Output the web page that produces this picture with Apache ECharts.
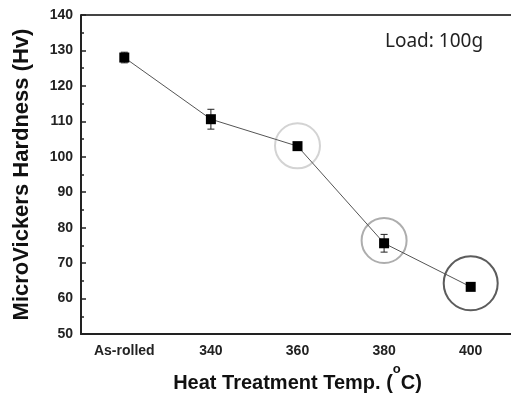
<!DOCTYPE html>
<html>
<head>
<meta charset="utf-8">
<script src="https://cdn.jsdelivr.net/npm/echarts@6/dist/echarts.min.js"></script>
<style>
html, body { margin: 0; padding: 0; background: #fff; }
#main { width: 511px; height: 395px; }
</style>
</head>
<body>
<div id="main"></div>
<script>
var categories = ['As-rolled', '340', '360', '380', '400'];
var hardness = [128, 110.6, 103, 75.6, 63.3];
var errors = [1.5, 2.8, 0.8, 2.5, 0.6];
// highlight rings: [category index, centre value, symbol size, colour]
var rings = [
    [2, 103.1, 45, '#c8c8c8'],
    [3, 76.4, 45, '#999999'],
    [4, 64.3, 54, '#333333']
];

var dom = document.getElementById('main');
var myChart = echarts.init(dom);

var boldFont = 'Liberation Sans, Arial, sans-serif';

option = {
    backgroundColor: '#fff',
    animation: false,
    grid: {
        left: 81,
        top: 15,
        right: -3,
        bottom: 61,
        outerBoundsMode: 'none',
        containLabel: false,
        show: false
    },
    xAxis: {
        type: 'category',
        data: categories,
        boundaryGap: true,
        name: '{n|Heat Treatment Temp. (}{sup|o}{n|C)}',
        nameLocation: 'middle',
        nameGap: 25,
        nameTextStyle: {
            fontFamily: boldFont,
            fontWeight: 'bold',
            fontSize: 20,
            color: '#111',
            rich: {
                n: {
                    fontFamily: boldFont,
                    fontWeight: 'bold',
                    fontSize: 20,
                    verticalAlign: 'bottom',
                    color: '#111'
                },
                sup: {
                    fontFamily: boldFont,
                    fontWeight: 'bold',
                    fontSize: 13,
                    verticalAlign: 'top',
                    padding: [0, 0, 18, 0],
                    color: '#111'
                }
            }
        },
        axisLine: { lineStyle: { color: '#222', width: 2 } },
        axisTick: { inside: true, alignWithLabel: true, length: 6, lineStyle: { color: '#222', width: 1.5 } },
        axisLabel: {
            fontFamily: boldFont,
            fontWeight: 'bold',
            fontSize: 14,
            color: '#222',
            margin: 10
        },
        splitLine: { show: false }
    },
    yAxis: [{
        type: 'value',
        min: 50,
        max: 140,
        interval: 10,
        name: 'MicroVickers Hardness (Hv)',
        nameLocation: 'middle',
        nameGap: 48,
        nameTextStyle: {
            fontFamily: boldFont,
            fontWeight: 'bold',
            fontSize: 22,
            color: '#111'
        },
        axisLine: { show: true, lineStyle: { color: '#222', width: 2 } },
        axisTick: { show: true, inside: true, length: 5, lineStyle: { color: '#222', width: 1.5 } },
        axisLabel: {
            fontFamily: boldFont,
            fontWeight: 'bold',
            fontSize: 14,
            color: '#222',
            margin: 8
        },
        splitLine: { show: false }
    }, {
        // minor ticks every 5
        type: 'value',
        position: 'left',
        min: 50,
        max: 140,
        interval: 5,
        axisLine: { show: false },
        axisTick: { show: true, inside: true, length: 3, lineStyle: { color: '#222', width: 1.5 } },
        axisLabel: { show: false },
        splitLine: { show: false }
    }],
    graphic: [{
        type: 'line',
        shape: { x1: 81, y1: 15, x2: 511, y2: 15 },
        style: { stroke: '#444', lineWidth: 2 }
    }, {
        type: 'text',
        left: 385,
        top: 32,
        style: {
            text: 'Load: 100g',
            font: '19px "Noto Sans", "Noto Sans CJK KR", sans-serif',
            fill: '#222'
        }
    }],
    series: [{
        type: 'line',
        data: hardness,
        symbol: 'rect',
        symbolSize: 10,
        itemStyle: { color: '#000' },
        lineStyle: { color: '#555', width: 1 },
        z: 3
    }, {
        type: 'custom',
        renderItem: function (params, api) {
            var x = api.value(0);
            var hi = api.coord([x, api.value(1)]);
            var lo = api.coord([x, api.value(2)]);
            var w = 3.5;
            return {
                type: 'group',
                children: [
                    { type: 'line', shape: { x1: hi[0], y1: hi[1], x2: lo[0], y2: lo[1] }, style: { stroke: '#222', lineWidth: 1 } },
                    { type: 'line', shape: { x1: hi[0] - w, y1: hi[1], x2: hi[0] + w, y2: hi[1] }, style: { stroke: '#222', lineWidth: 1 } },
                    { type: 'line', shape: { x1: lo[0] - w, y1: lo[1], x2: lo[0] + w, y2: lo[1] }, style: { stroke: '#222', lineWidth: 1 } }
                ]
            };
        },
        data: hardness.map(function (v, i) { return [i, v + errors[i], v - errors[i]]; }),
        z: 2
    }, {
        type: 'scatter',
        data: rings.map(function (r) {
            return {
                value: [r[0], r[1]],
                symbolSize: r[2],
                itemStyle: { color: 'rgba(0,0,0,0)', borderColor: r[3], borderWidth: 2 }
            };
        }),
        symbol: 'circle',
        z: 1,
        silent: true
    }]
};

if (option && typeof option === 'object') {
    myChart.setOption(option, true);
}
</script>
</body>
</html>
